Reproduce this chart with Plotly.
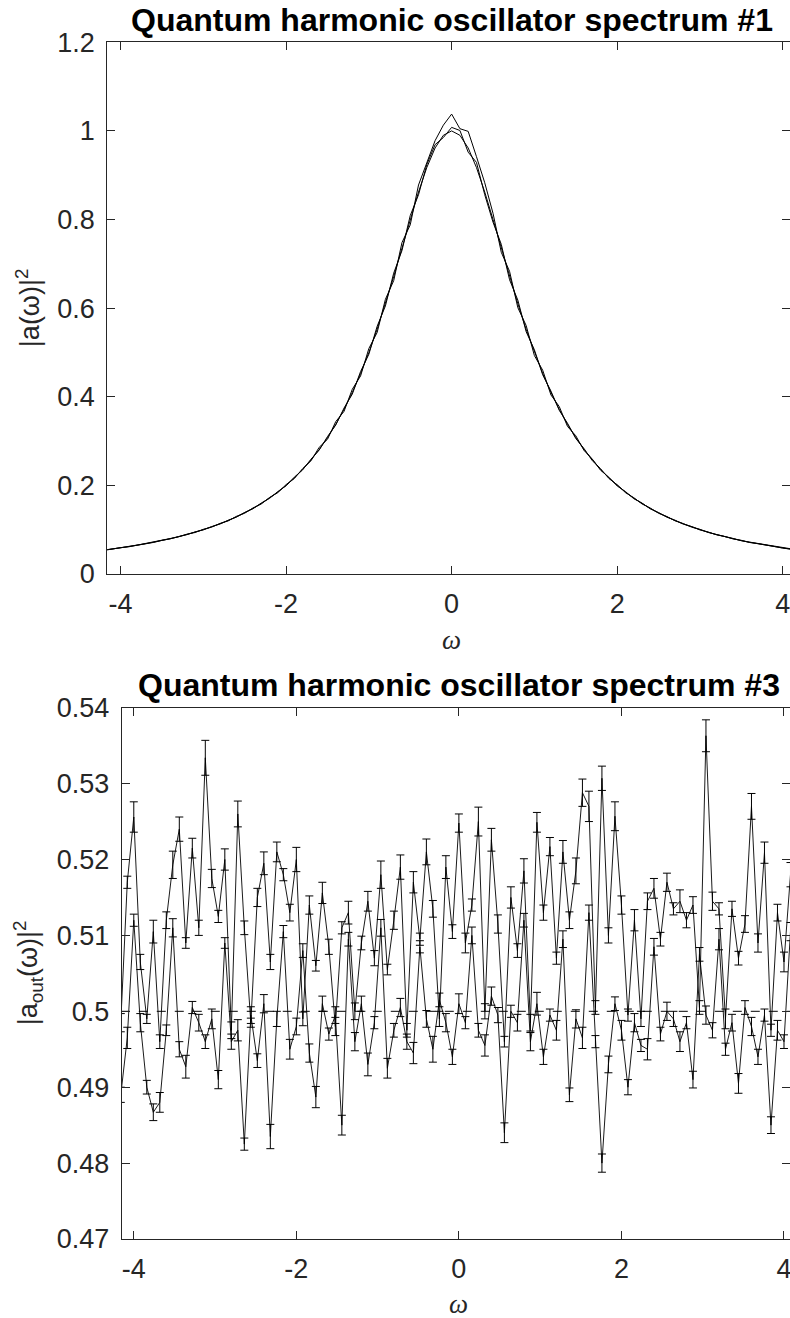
import plotly.graph_objects as go

# ---------------- data: top panel ----------------
omega_top = [-4.2, -4.1, -4.0, -3.9, -3.8, -3.7, -3.6, -3.5, -3.4, -3.3, -3.2, -3.1, -3.0,
             -2.9, -2.8, -2.7, -2.6, -2.5, -2.4, -2.3, -2.2, -2.1, -2.0, -1.9, -1.8, -1.7,
             -1.6, -1.5, -1.4, -1.3, -1.2, -1.1, -1.0, -0.9, -0.8, -0.7, -0.6, -0.5, -0.4,
             -0.3, -0.2, -0.1, 0.0, 0.1, 0.2, 0.3, 0.4, 0.5, 0.6, 0.7, 0.8, 0.9, 1.0, 1.1,
             1.2, 1.3, 1.4, 1.5, 1.6, 1.7, 1.8, 1.9, 2.0, 2.1, 2.2, 2.3, 2.4, 2.5, 2.6, 2.7,
             2.8, 2.9, 3.0, 3.1, 3.2, 3.3, 3.4, 3.5, 3.6, 3.7, 3.8, 3.9, 4.0, 4.1, 4.2]

spectrum_exact = [0.0536, 0.0561, 0.0588, 0.0617, 0.0648, 0.0681, 0.0716, 0.0755, 0.0796, 0.0841,
                  0.0890, 0.0942, 0.1000, 0.1063, 0.1131, 0.1206, 0.1289, 0.1379, 0.1479, 0.1590,
                  0.1712, 0.1848, 0.2000, 0.2169, 0.2358, 0.2571, 0.2809, 0.3077, 0.3378, 0.3717,
                  0.4098, 0.4525, 0.5000, 0.5525, 0.6098, 0.6711, 0.7353, 0.8000, 0.8621, 0.9174,
                  0.9615, 0.9901, 1.0000, 0.9901, 0.9615, 0.9174, 0.8621, 0.8000, 0.7353, 0.6711,
                  0.6098, 0.5525, 0.5000, 0.4525, 0.4098, 0.3717, 0.3378, 0.3077, 0.2809, 0.2571,
                  0.2358, 0.2169, 0.2000, 0.1848, 0.1712, 0.1590, 0.1479, 0.1379, 0.1289, 0.1206,
                  0.1131, 0.1063, 0.1000, 0.0942, 0.0890, 0.0841, 0.0796, 0.0755, 0.0716, 0.0681,
                  0.0648, 0.0617, 0.0588, 0.0561, 0.0536]

spectrum_run1 = [0.0540, 0.0559, 0.0593, 0.0614, 0.0652, 0.0679, 0.0722, 0.0751, 0.0803, 0.0838,
                 0.0897, 0.0936, 0.1009, 0.1058, 0.1140, 0.1198, 0.1301, 0.1372, 0.1491, 0.1580,
                 0.1727, 0.1836, 0.2018, 0.2153, 0.2380, 0.2552, 0.2860, 0.3040, 0.3440, 0.3670,
                 0.4170, 0.4470, 0.5090, 0.5450, 0.6200, 0.6620, 0.7480, 0.7880, 0.8780, 0.9300,
                 0.9780, 1.0130, 1.0380, 1.0050, 0.9990, 0.9420, 0.8830, 0.8140, 0.7260, 0.6830,
                 0.6010, 0.5610, 0.4930, 0.4600, 0.4040, 0.3780, 0.3330, 0.3120, 0.2788, 0.2592,
                 0.2340, 0.2185, 0.1986, 0.1862, 0.1700, 0.1601, 0.1470, 0.1388, 0.1281, 0.1214,
                 0.1124, 0.1070, 0.0994, 0.0948, 0.0884, 0.0846, 0.0791, 0.0760, 0.0711, 0.0685,
                 0.0644, 0.0620, 0.0585, 0.0563, 0.0534]

spectrum_run2 = [0.0534, 0.0563, 0.0586, 0.0620, 0.0645, 0.0685, 0.0713, 0.0760, 0.0793, 0.0846,
                 0.0886, 0.0949, 0.0996, 0.1070, 0.1126, 0.1214, 0.1283, 0.1390, 0.1473, 0.1602,
                 0.1705, 0.1861, 0.1990, 0.2184, 0.2349, 0.2590, 0.2797, 0.3101, 0.3362, 0.3745,
                 0.4060, 0.4570, 0.4960, 0.5590, 0.6050, 0.6790, 0.7300, 0.8090, 0.8560, 0.9240,
                 0.9690, 0.9850, 1.0080, 1.0010, 0.9520, 0.9290, 0.8560, 0.7940, 0.7440, 0.6640,
                 0.6180, 0.5470, 0.5060, 0.4497, 0.4128, 0.3695, 0.3402, 0.3058, 0.2830, 0.2556,
                 0.2376, 0.2155, 0.2014, 0.1837, 0.1724, 0.1581, 0.1489, 0.1371, 0.1297, 0.1199,
                 0.1138, 0.1057, 0.1006, 0.0937, 0.0895, 0.0836, 0.0801, 0.0750, 0.0720, 0.0677,
                 0.0652, 0.0614, 0.0591, 0.0559, 0.0538]

# ---------------- data: bottom panel ----------------
omega_bot = [-4.16, -4.08, -4.00, -3.92, -3.84, -3.76, -3.68, -3.60, -3.52, -3.44, -3.36, -3.28,
             -3.20, -3.12, -3.04, -2.96, -2.88, -2.80, -2.72, -2.64, -2.56, -2.48, -2.40, -2.32,
             -2.24, -2.16, -2.08, -2.00, -1.92, -1.84, -1.76, -1.68, -1.60, -1.52, -1.44, -1.36,
             -1.28, -1.20, -1.12, -1.04, -0.96, -0.88, -0.80, -0.72, -0.64, -0.56, -0.48, -0.40,
             -0.32, -0.24, -0.16, -0.08, 0.00, 0.08, 0.16, 0.24, 0.32, 0.40, 0.48, 0.56, 0.64,
             0.72, 0.80, 0.88, 0.96, 1.04, 1.12, 1.20, 1.28, 1.36, 1.44, 1.52, 1.60, 1.68, 1.76,
             1.84, 1.92, 2.00, 2.08, 2.16, 2.24, 2.32, 2.40, 2.48, 2.56, 2.64, 2.72, 2.80, 2.88,
             2.96, 3.04, 3.12, 3.20, 3.28, 3.36, 3.44, 3.52, 3.60, 3.68, 3.76, 3.84, 3.92, 4.00,
             4.08, 4.16]

aout_run_a = [0.4985, 0.5170, 0.5256, 0.5065, 0.4990, 0.5105, 0.4960, 0.5120, 0.5193, 0.5240,
              0.5090, 0.5215, 0.5110, 0.5334, 0.5175, 0.5125, 0.5200, 0.4975, 0.5260, 0.5110,
              0.4985, 0.5150, 0.5195, 0.5065, 0.5210, 0.5180, 0.5130, 0.5200, 0.4990, 0.5140,
              0.5060, 0.5156, 0.5085, 0.4980, 0.5110, 0.5130, 0.5000, 0.5090, 0.5145, 0.5070,
              0.5180, 0.5055, 0.5120, 0.5190, 0.4975, 0.5170, 0.5095, 0.5210, 0.5135, 0.4990,
              0.5190, 0.5105, 0.5248, 0.5090, 0.5140, 0.5250, 0.5000, 0.5226, 0.5115, 0.4960,
              0.5150, 0.5080, 0.5185, 0.4985, 0.5249, 0.5130, 0.5217, 0.5070, 0.5210, 0.5120,
              0.5185, 0.5288, 0.5270, 0.5005, 0.5307, 0.5100, 0.5257, 0.5140, 0.4995, 0.5120,
              0.4990, 0.5145, 0.5162, 0.5095, 0.5170, 0.5135, 0.5145, 0.5120, 0.5140, 0.5005,
              0.5363, 0.5145, 0.5135, 0.4990, 0.5135, 0.5070, 0.5115, 0.5270, 0.5090, 0.5209,
              0.4975, 0.5130, 0.5065, 0.5180, 0.5110]

aout_err_a = [0.0012, 0.0008, 0.0020, 0.0010, 0.0006, 0.0015, 0.0009, 0.0011, 0.0018, 0.0016,
              0.0007, 0.0013, 0.0010, 0.0023, 0.0012, 0.0008, 0.0014, 0.0011, 0.0017, 0.0009,
              0.0006, 0.0012, 0.0015, 0.0010, 0.0013, 0.0008, 0.0011, 0.0016, 0.0009, 0.0012,
              0.0007, 0.0014, 0.0010, 0.0012, 0.0008, 0.0015, 0.0011, 0.0009, 0.0013, 0.0010,
              0.0018, 0.0007, 0.0012, 0.0016, 0.0009, 0.0014, 0.0008, 0.0017, 0.0011, 0.0010,
              0.0015, 0.0009, 0.0012, 0.0013, 0.0008, 0.0019, 0.0010, 0.0015, 0.0012, 0.0007,
              0.0014, 0.0009, 0.0016, 0.0011, 0.0013, 0.0010, 0.0012, 0.0008, 0.0015, 0.0011,
              0.0017, 0.0018, 0.0020, 0.0009, 0.0016, 0.0010, 0.0019, 0.0012, 0.0008, 0.0014,
              0.0010, 0.0011, 0.0013, 0.0009, 0.0012, 0.0008, 0.0015, 0.0010, 0.0011, 0.0009,
              0.0021, 0.0012, 0.0008, 0.0013, 0.0010, 0.0009, 0.0011, 0.0017, 0.0012, 0.0014,
              0.0008, 0.0011, 0.0013, 0.0016, 0.0010]

aout_run_b = [0.4890, 0.4965, 0.5120, 0.4985, 0.4900, 0.4867, 0.4880, 0.4975, 0.5110, 0.4950,
              0.4927, 0.5005, 0.4985, 0.4960, 0.4990, 0.4910, 0.5090, 0.4960, 0.4975, 0.4825,
              0.4995, 0.4935, 0.5010, 0.4835, 0.4990, 0.5105, 0.4950, 0.4980, 0.5080, 0.4945,
              0.4887, 0.5010, 0.4970, 0.4995, 0.4850, 0.5095, 0.4960, 0.5010, 0.4930, 0.4985,
              0.5110, 0.4925, 0.4975, 0.5005, 0.4960, 0.4945, 0.5085, 0.4990, 0.4950, 0.5015,
              0.4985, 0.4940, 0.5010, 0.4985, 0.5100, 0.4975, 0.4955, 0.5020, 0.4995, 0.4840,
              0.5000, 0.4985, 0.5120, 0.4960, 0.5010, 0.4940, 0.4995, 0.4975, 0.5095, 0.4890,
              0.4990, 0.4965, 0.5130, 0.4960, 0.4800, 0.4930, 0.5010, 0.4975, 0.4900, 0.4985,
              0.4955, 0.4950, 0.5085, 0.4970, 0.5000, 0.4990, 0.4960, 0.4985, 0.4910, 0.5075,
              0.4995, 0.4975, 0.5095, 0.4950, 0.4985, 0.4905, 0.5005, 0.4980, 0.4940, 0.4995,
              0.4850, 0.4975, 0.4960, 0.5105, 0.4985]

aout_err_b = [0.0010, 0.0014, 0.0008, 0.0012, 0.0009, 0.0011, 0.0013, 0.0007, 0.0012, 0.0010,
              0.0015, 0.0008, 0.0011, 0.0009, 0.0013, 0.0012, 0.0007, 0.0010, 0.0014, 0.0008,
              0.0011, 0.0009, 0.0012, 0.0016, 0.0010, 0.0008, 0.0013, 0.0011, 0.0009, 0.0012,
              0.0014, 0.0010, 0.0008, 0.0011, 0.0013, 0.0009, 0.0012, 0.0010, 0.0015, 0.0008,
              0.0011, 0.0013, 0.0009, 0.0012, 0.0010, 0.0014, 0.0008, 0.0011, 0.0017, 0.0009,
              0.0012, 0.0010, 0.0013, 0.0008, 0.0011, 0.0009, 0.0014, 0.0012, 0.0010, 0.0013,
              0.0008, 0.0011, 0.0009, 0.0012, 0.0015, 0.0010, 0.0008, 0.0013, 0.0011, 0.0009,
              0.0012, 0.0014, 0.0010, 0.0008, 0.0012, 0.0011, 0.0009, 0.0013, 0.0010, 0.0012,
              0.0008, 0.0014, 0.0011, 0.0009, 0.0012, 0.0010, 0.0013, 0.0008, 0.0011, 0.0009,
              0.0012, 0.0010, 0.0014, 0.0008, 0.0011, 0.0013, 0.0009, 0.0012, 0.0010, 0.0008,
              0.0011, 0.0013, 0.0009, 0.0012, 0.0010]

theory_level = 0.5

x_ticks = [-4, -2, 0, 2, 4]
x_ticklabels = ["-4", "-2", "0", "2", "4"]
y_top_ticks = [0, 0.2, 0.4, 0.6, 0.8, 1.0, 1.2]
y_top_ticklabels = ["0", "0.2", "0.4", "0.6", "0.8", "1", "1.2"]
y_bot_ticks = [0.47, 0.48, 0.49, 0.50, 0.51, 0.52, 0.53, 0.54]
y_bot_ticklabels = ["0.47", "0.48", "0.49", "0.5", "0.51", "0.52", "0.53", "0.54"]

titles = ["Quantum harmonic oscillator spectrum #1", "Quantum harmonic oscillator spectrum #3"]

# ---------------- figure ----------------
W, H = 790, 1318
AX = "#262626"
FONT = "Liberation Sans, Arial, sans-serif"

fig = go.Figure()

for ys in (spectrum_exact, spectrum_run1, spectrum_run2):
    fig.add_trace(go.Scatter(x=omega_top, y=ys, mode="lines",
                             line=dict(color="black", width=1),
                             xaxis="x", yaxis="y", showlegend=False, hoverinfo="skip"))

fig.add_trace(go.Scatter(x=[omega_bot[0], omega_bot[-1] + 0.2],
                         y=[theory_level, theory_level], mode="lines",
                         line=dict(color="black", width=1, dash="dash"),
                         xaxis="x2", yaxis="y2", showlegend=False, hoverinfo="skip"))

for ys, es in ((aout_run_a, aout_err_a), (aout_run_b, aout_err_b)):
    fig.add_trace(go.Scatter(x=omega_bot, y=ys, mode="lines",
                             line=dict(color="black", width=0.9),
                             error_y=dict(type="data", array=es, visible=True,
                                          color="black", thickness=1, width=4),
                             xaxis="x2", yaxis="y2", showlegend=False, hoverinfo="skip"))

def px_y(p):
    return 1 - p / H

common_x = dict(tickmode="array", tickvals=x_ticks, ticktext=x_ticklabels,
                ticks="inside", ticklen=8, tickcolor=AX, tickwidth=1,
                showline=True, linecolor=AX, linewidth=1, mirror="ticks",
                showgrid=False, zeroline=False, ticklabeloverflow="allow",
                tickfont=dict(family=FONT, size=27, color=AX), ticklabelstandoff=6)
common_y = dict(ticks="inside", ticklen=8, tickcolor=AX, tickwidth=1,
                showline=True, linecolor=AX, linewidth=1, mirror="ticks",
                showgrid=False, zeroline=False, tickmode="array", ticklabeloverflow="allow",
                tickfont=dict(family=FONT, size=27, color=AX), ticklabelstandoff=6)

fig.update_layout(
    width=W, height=H,
    margin=dict(l=0, r=0, t=0, b=0, autoexpand=False),
    paper_bgcolor="white", plot_bgcolor="white",
    xaxis=dict(domain=[107.3 / W, 1], range=[-4.16, 4.088], anchor="y", **common_x),
    yaxis=dict(domain=[px_y(574), px_y(42.3)], range=[0, 1.2], anchor="x",
               tickvals=y_top_ticks, ticktext=y_top_ticklabels, **common_y),
    xaxis2=dict(domain=[121.6 / W, 1], range=[-4.15, 4.074], anchor="y2", **common_x),
    yaxis2=dict(domain=[px_y(1239), px_y(707.7)], range=[0.47, 0.54], anchor="x2",
                tickvals=y_bot_ticks, ticktext=y_bot_ticklabels, **common_y),
)

ann = []
for t, yc, xr in ((titles[0], 20, "x"), (titles[1], 685, "x2")):
    ann.append(dict(text="<b>" + t + "</b>", xref=xr, x=0, yref="paper", y=px_y(yc),
                    xanchor="center", yanchor="middle", showarrow=False,
                    font=dict(family=FONT, size=32, color="black")))
for yc, xr in ((640, "x"), (1304, "x2")):
    ann.append(dict(text="<i>ω</i>", xref=xr, x=0, yref="paper", y=px_y(yc),
                    xanchor="center", yanchor="middle", showarrow=False,
                    font=dict(family="Liberation Serif, serif", size=27, color=AX)))
ann.append(dict(text="|a(ω)|<sup>2</sup>", xref="paper", x=28 / W, yref="paper",
                y=px_y((42.3 + 574) / 2), textangle=-90, xanchor="center", yanchor="middle",
                showarrow=False, font=dict(family=FONT, size=27, color=AX)))
ann.append(dict(text="|a<sub>out</sub>(ω)|<sup>2</sup>", xref="paper", x=28 / W, yref="paper",
                y=px_y((707.7 + 1239) / 2), textangle=-90, xanchor="center", yanchor="middle",
                showarrow=False, font=dict(family=FONT, size=27, color=AX)))
fig.update_layout(annotations=ann)

fig.write_html("out.html", config={"displayModeBar": False},
               post_script="document.body.style.margin='0';document.body.style.overflow='hidden';")
